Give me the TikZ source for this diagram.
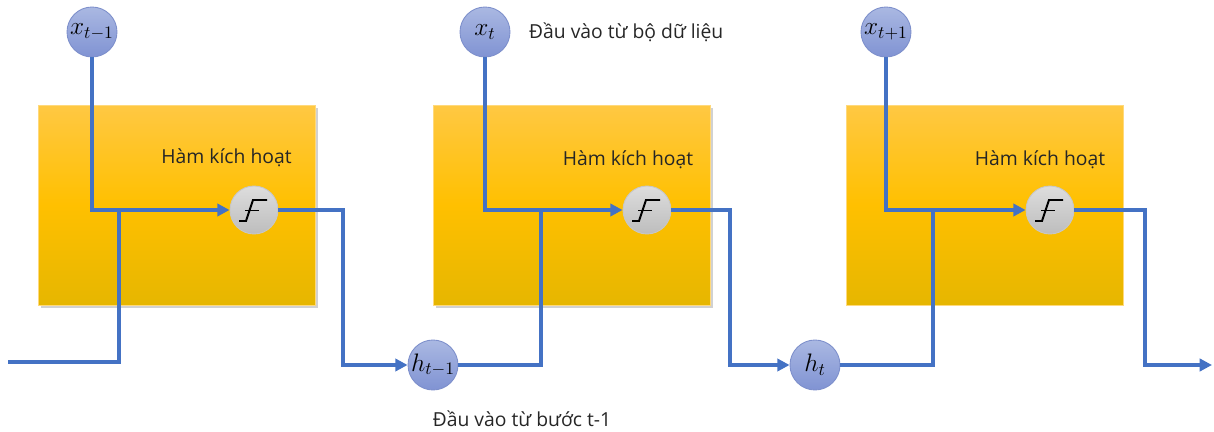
\documentclass[tikz,border=0pt]{standalone}
\usepackage{fontspec}
\setmainfont{Open Sans}
\usetikzlibrary{arrows.meta,shadows}

\definecolor{flowblue}{HTML}{4472C4}
\definecolor{boxtop}{HTML}{FFC843}
\definecolor{boxmid}{HTML}{FFC000}
\definecolor{boxbot}{HTML}{E6B600}
\definecolor{bubtop}{HTML}{AAB8E2}
\definecolor{bubbot}{HTML}{8093D3}
\definecolor{bubline}{HTML}{7D8FCB}
\definecolor{acttop}{HTML}{DDDDDD}
\definecolor{actbot}{HTML}{BDBDBD}
\definecolor{labeltext}{HTML}{262626}

\tikzset{
  cellbox/.style={rectangle, minimum width=5.54cm, minimum height=4cm,
    top color=boxtop, bottom color=boxbot, middle color=boxmid,
    draw=boxtop!70!white, line width=0.3pt},
  shadowed/.style={drop shadow={shadow xshift=1.6pt, shadow yshift=-1.6pt,
    opacity=0.3, fill=black!60}},
  inbubble/.style={circle, minimum size=1cm, inner sep=0pt,
    top color=bubtop, bottom color=bubbot, draw=bubline, line width=0.5pt,
    font=\fontsize{14}{16}\selectfont},
  actnode/.style={circle, minimum size=0.96cm, inner sep=0pt,
    top color=acttop, bottom color=actbot, draw=black!22, line width=0.5pt},
  glyph/.style={line width=1.1pt, black, line cap=butt, line join=miter},
  flow/.style={draw=flowblue, line width=1.9pt,
    -{Triangle[length=7pt,width=7pt]}},
  flowplain/.style={draw=flowblue, line width=1.9pt},
  celllabel/.style={font=\fontsize{11}{13}\selectfont, text=labeltext},
  note/.style={font=\fontsize{11}{13}\selectfont, text=labeltext}
}

\begin{document}
\begin{tikzpicture}[x=0.02cm, y=-0.02cm]
\useasboundingbox (0,0) rectangle (1214,432);

% the three recurrent cells
\node[cellbox, shadowed] (box1) at (176.5,205) {};
\node[cellbox, shadowed] (box2) at (571.5,205) {};
\node[cellbox] (box3) at (984.5,205) {};

\node[celllabel] (lab1) at (226.5,158) {Hàm kích hoạt};
\node[celllabel] (lab2) at (628,160) {Hàm kích hoạt};
\node[celllabel] (lab3) at (1040,160) {Hàm kích hoạt};

% activation units
\node[actnode] (act1) at (254,210) {};
\node[actnode] (act2) at (647,210) {};
\node[actnode] (act3) at (1050,210) {};

% inputs and hidden states
\node[inbubble] (x1) at (92,32) {$x_{t-1}$};
\node[inbubble] (x2) at (485,32) {$x_t$};
\node[inbubble] (x3) at (886,32) {$x_{t+1}$};
\node[inbubble] (h1) at (433,365) {$h_{t-1}$};
\node[inbubble] (h2) at (815,365) {$h_t$};

% routing points
\coordinate (start) at (8,362);
\coordinate (j1) at (119,210);
\coordinate (o1) at (343,365);
\coordinate (j2) at (541,210);
\coordinate (o2) at (730,365);
\coordinate (j3) at (933,210);
\coordinate (o3) at (1145,365);
\coordinate (finish) at (1212,365);

% connectors
\draw[flowplain] (start) -| (j1);
\draw[flow] (x1.south) |- (act1.west);
\draw[flow] (act1.east) -| (o1) -- (h1.west);
\draw[flowplain] (h1.east) -| (j2);
\draw[flow] (x2.south) |- (act2.west);
\draw[flow] (act2.east) -| (o2) -- (h2.west);
\draw[flowplain] (h2.east) -| (j3);
\draw[flow] (x3.south) |- (act3.west);
\draw[flow] (act3.east) -| (o3) -- (finish);

% step-shaped activation symbol
\foreach \a in {act1,act2,act3}{
  \draw[glyph, shift={(\a.center)}] (13,-10) -- (-1,-10) -- (-8,11) -- (-15,11);
  \draw[glyph, shift={(\a.center)}] (-9,0.5) -- (5,0.5);
}

\node[note, anchor=west] (srcdata) at (523,32) {Đầu vào từ bộ dữ liệu};
\node[note] (srcprev) at (522,419) {Đầu vào từ bước t-1};
\end{tikzpicture}
\end{document}
